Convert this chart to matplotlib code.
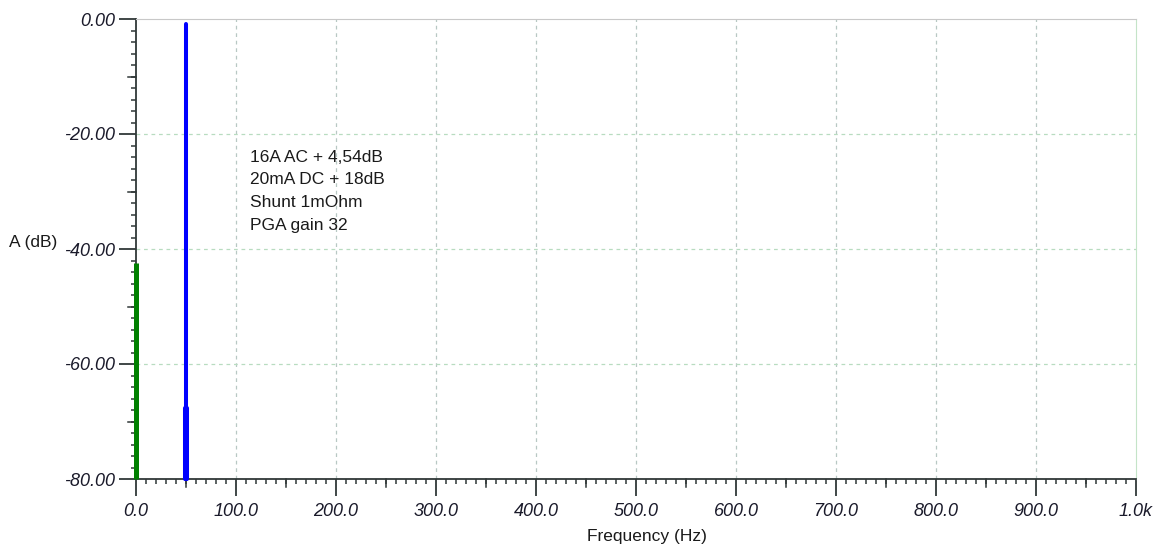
import matplotlib
matplotlib.use("Agg")
import matplotlib.pyplot as plt
import matplotlib.lines as mlines
from matplotlib.ticker import MultipleLocator, FixedLocator
from matplotlib.transforms import blended_transform_factory

# Spectrum data (frequency in Hz, amplitude in dB)
dc_freq = [0.0]
dc_amp = [-42.5]

ac_freq = [49.0, 50.0, 51.0]
ac_amp = [-67.7, -0.9, -67.7]

floor_db = -80

x_ticks = [0, 100, 200, 300, 400, 500, 600, 700, 800, 900, 1000]
x_tick_labels = ["0.0", "100.0", "200.0", "300.0", "400.0", "500.0",
                 "600.0", "700.0", "800.0", "900.0", "1.0k"]
y_ticks = [0, -20, -40, -60, -80]
y_tick_labels = ["0.00", "-20.00", "-40.00", "-60.00", "-80.00"]

notes = ["16A AC + 4,54dB", "20mA DC + 18dB", "Shunt 1mOhm", "PGA gain 32"]

plt.rcParams["font.family"] = ["Liberation Sans", "DejaVu Sans"]

W, H = 1166, 548
fig = plt.figure(figsize=(W / 100, H / 100), dpi=100)
ax = fig.add_axes([136 / W, 1 - 479 / H, 1000 / W, 460 / H])

ax.set_xlim(0, 1000)
ax.set_ylim(-80, 0)

# Grid
for x in x_ticks[1:-1]:
    ax.axvline(x, color="#b8c8c4", lw=0.9, ls=(0, (3, 3)), zorder=0)
for y in y_ticks[1:-1]:
    ax.axhline(y, color="#b8dcc0", lw=0.9, ls=(0, (3, 3)), zorder=0)

# Spectrum bins drawn as vertical bars from the noise floor
ax.vlines(dc_freq, floor_db, dc_amp, color="#008000", lw=3.6, zorder=6, clip_on=False)
ax.vlines(ac_freq, floor_db, ac_amp, color="#0000ff", lw=2.9, zorder=6,
          capstyle="round", clip_on=False)

# Spines
ax.spines["left"].set_color("#303838")
ax.spines["bottom"].set_color("#303838")
ax.spines["left"].set_linewidth(1.3)
ax.spines["bottom"].set_linewidth(1.3)
ax.spines["top"].set_color("#c8c8c8")
ax.spines["right"].set_color("#c4e4c8")

# Ticks
ax.xaxis.set_major_locator(FixedLocator(x_ticks))
ax.set_xticklabels(x_tick_labels)
ax.yaxis.set_major_locator(FixedLocator(y_ticks))
ax.set_yticklabels(y_tick_labels)
ax.xaxis.set_minor_locator(MultipleLocator(10))
ax.yaxis.set_minor_locator(MultipleLocator(2))

ax.tick_params(axis="both", which="major", direction="out", length=12, width=1.3,
               color="#303838", labelsize=13, labelcolor="#1a1a2a")
ax.tick_params(axis="x", which="major", pad=5)
ax.tick_params(axis="y", which="major", pad=3)
ax.tick_params(axis="both", which="minor", direction="out", length=3.5, width=1.1,
               color="#303838")
for lbl in ax.get_xticklabels() + ax.get_yticklabels():
    lbl.set_fontstyle("italic")

# Medium ticks at half-intervals
trans_x = blended_transform_factory(ax.transData, ax.transAxes)
trans_y = blended_transform_factory(ax.transAxes, ax.transData)
for x in range(50, 1000, 100):
    ax.add_line(mlines.Line2D([x, x], [0, -8 / 460], transform=trans_x,
                              color="#303838", lw=1.1, clip_on=False))
for y in range(-10, -80, -20):
    ax.add_line(mlines.Line2D([0, -8 / 1000], [y, y], transform=trans_y,
                              color="#303838", lw=1.1, clip_on=False))

# Annotations
for i, t in enumerate(notes):
    ax.text(114, -24.0 - i * 3.95, t, fontsize=12.5, color="#1a1a1a",
            ha="left", va="center")

fig.text(9 / W, 1 - 243 / H, "A (dB)", fontsize=12.5, color="#1a1a1a",
         ha="left", va="center")
fig.text(647 / W, 1 - 536 / H, "Frequency (Hz)", fontsize=12.5, color="#1a1a1a",
         ha="center", va="center")

fig.savefig("out.png", dpi=100)
